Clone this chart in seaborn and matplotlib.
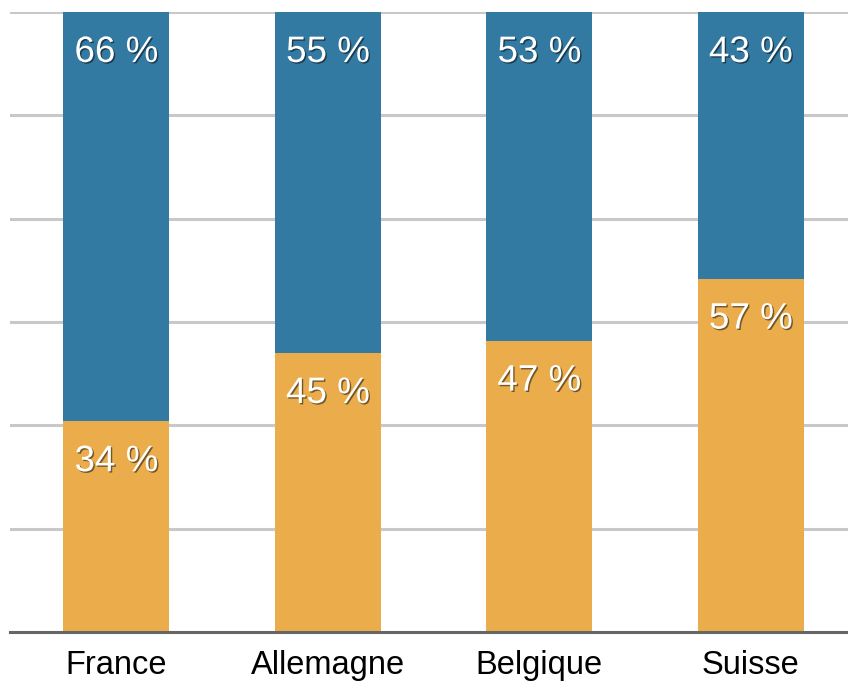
import matplotlib
matplotlib.use('Agg')
import matplotlib.pyplot as plt
import matplotlib.patheffects as pe
import seaborn as sns
import pandas as pd

pays = ['France', 'Allemagne', 'Belgique', 'Suisse']
part_orange = [34, 45, 47, 57]
part_bleue = [66, 55, 53, 43]

bleu = '#337aa3'
orange = '#ebad4b'

sns.set_style('white')
plt.rcParams['font.family'] = ['Liberation Sans', 'DejaVu Sans']

df = pd.DataFrame({'pays': pays, 'orange': part_orange, 'bleue': part_bleue})
df['total'] = df['orange'] + df['bleue']

fig = plt.figure(figsize=(8.48, 6.84), dpi=100)
ax = fig.add_axes([10 / 848, 52 / 684, 838 / 848, 620 / 684])

# gridlines every 1/6
for k in range(1, 7):
    ax.axhline(100 * k / 6, color='#c8c8c8', lw=2.2, zorder=0)

sns.barplot(data=df, x='pays', y='total', color=bleu, width=0.5,
            saturation=1, linewidth=0, ax=ax, zorder=2)
sns.barplot(data=df, x='pays', y='orange', color=orange, width=0.5,
            saturation=1, linewidth=0, ax=ax, zorder=3)

ax.set_xlim(-0.503, 3.46)
ax.set_ylim(0, 100)
ax.set_xlabel('')
ax.set_ylabel('')
ax.set_yticks([])
for s in ['top', 'right', 'left']:
    ax.spines[s].set_visible(False)
ax.spines['bottom'].set_color('#666666')
ax.spines['bottom'].set_linewidth(2.2)
ax.spines['bottom'].set_zorder(5)
ax.tick_params(axis='x', length=0, pad=13, labelsize=23.5, labelcolor='black')

ombre = [pe.withSimplePatchShadow(offset=(1, -1), shadow_rgbFace='black', alpha=0.5)]
for i in range(len(pays)):
    ax.annotate(f'{part_bleue[i]} %', (i, part_orange[i] + part_bleue[i]),
                xytext=(0, -36), textcoords='offset points', ha='center',
                va='baseline', color='white', fontsize=26.5, path_effects=ombre, zorder=6)
    ax.annotate(f'{part_orange[i]} %', (i, part_orange[i]),
                xytext=(0, -36), textcoords='offset points', ha='center',
                va='baseline', color='white', fontsize=26.5, path_effects=ombre, zorder=6)

fig.savefig('out.png', dpi=100)
